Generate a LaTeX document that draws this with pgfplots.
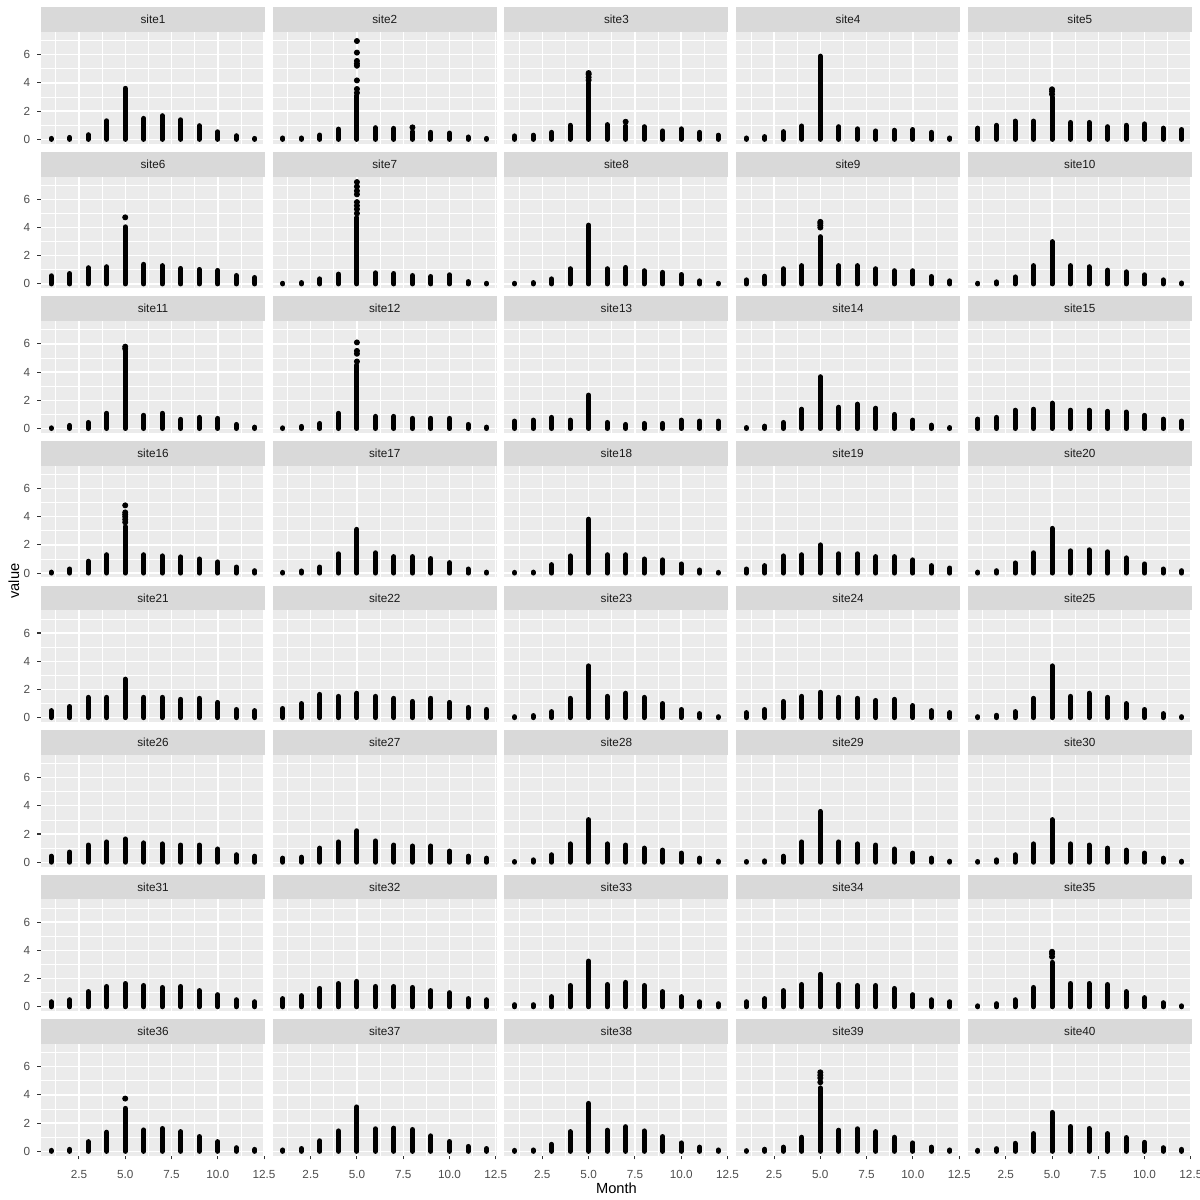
\documentclass[border=0pt]{standalone}
\usepackage{fontspec}
\setmainfont{Liberation Sans}
\usepackage{pgfplots}
\pgfplotsset{compat=1.18}
\usepgfplotslibrary{groupplots}
\definecolor{panelbg}{HTML}{EBEBEB}
\definecolor{stripbg}{HTML}{D9D9D9}
\definecolor{striptext}{HTML}{1A1A1A}
\definecolor{ticktext}{HTML}{4D4D4D}
\definecolor{tickline}{HTML}{333333}
\pgfplotsset{
  facet/.style={
    set layers,
    scale only axis, width=112pt, height=55.85pt,
    xmin=0.45, xmax=12.55, ymin=-0.306, ymax=7.61,
    axis background/.style={fill=panelbg},
    axis line style={draw=none},
    xtick={2.5,5,7.5,10,12.5}, xticklabels={2.5,5.0,7.5,10.0,12.5},
    ytick={0,2,4,6}, yticklabels={0,2,4,6},
    minor xtick={1.25,3.75,6.25,8.75,11.25},
    minor ytick={1,3,5,7},
    grid=both,
    major grid style={white, line width=0.71pt},
    minor grid style={white, line width=0.36pt},
    tick align=outside, major tick length=1.85pt, minor tick length=0pt,
    xtick style={draw=none}, ytick style={draw=none},
    /pgf/number format/assume math mode=true,
    tick label style={font=\fontsize{5.87}{7}\selectfont, text=ticktext},
    xticklabel style={yshift=-1.8pt},
    every axis title/.style={at={(0.5,1)}, anchor=south, fill=stripbg,
      minimum width=112pt, minimum height=12.35pt, inner sep=0pt, outer sep=0pt,
      font=\fontsize{5.87}{7}\selectfont, text=striptext},
  },
  leftcol/.style={ytick style={draw=tickline, line width=0.53pt}, ytick pos=left},
  botrow/.style={xtick style={draw=tickline, line width=0.53pt}, xtick pos=bottom},
  bar/.style={ycomb, black, line width=2.5pt, line cap=round, mark=none},
  pts/.style={only marks, mark=*, mark size=1.28pt, black},
}
\begin{document}
\begin{tikzpicture}
\begin{groupplot}[facet,
  group style={group size=5 by 8, horizontal sep=3.85pt, vertical sep=16.43pt,
    xticklabels at=edge bottom, yticklabels at=edge left}]
% row 1
\nextgroupplot[title=site1, leftcol]
\addplot[bar] coordinates {(1,0.07)(2,0.14)(3,0.33)(4,1.32)(5,3.62)(6,1.49)(7,1.68)(8,1.39)(9,0.97)(10,0.54)(11,0.26)(12,0.07)};
\nextgroupplot[title=site2]
\addplot[bar] coordinates {(1,0.1)(2,0.1)(3,0.31)(4,0.73)(5,3.1)(6,0.83)(7,0.78)(8,0.55)(9,0.5)(10,0.45)(11,0.17)(12,0.07)};
\addplot[pts] coordinates {(5,3.3)(5,3.57)(5,4.18)(5,5.22)(5,5.37)(5,5.56)(5,6.15)(5,6.97)(8,0.85)};
\nextgroupplot[title=site3]
\addplot[bar] coordinates {(1,0.25)(2,0.3)(3,0.5)(4,1.0)(5,4.0)(6,1.05)(7,0.95)(8,0.9)(9,0.6)(10,0.75)(11,0.5)(12,0.3)};
\addplot[pts] coordinates {(5,4.2)(5,4.4)(5,4.6)(5,4.7)(7,1.25)};
\nextgroupplot[title=site4]
\addplot[bar] coordinates {(1,0.1)(2,0.2)(3,0.55)(4,0.95)(5,5.9)(6,0.9)(7,0.75)(8,0.6)(9,0.65)(10,0.7)(11,0.5)(12,0.1)};
\nextgroupplot[title=site5]
\addplot[bar] coordinates {(1,0.8)(2,1.0)(3,1.3)(4,1.3)(5,3.0)(6,1.2)(7,1.2)(8,0.9)(9,1.0)(10,1.1)(11,0.8)(12,0.7)};
\addplot[pts] coordinates {(5,3.2)(5,3.4)(5,3.55)};
% row 2
\nextgroupplot[title=site6, leftcol]
\addplot[bar] coordinates {(1,0.58)(2,0.74)(3,1.15)(4,1.22)(5,4.05)(6,1.39)(7,1.3)(8,1.1)(9,1.03)(10,0.96)(11,0.6)(12,0.46)};
\addplot[pts] coordinates {(5,4.72)};
\nextgroupplot[title=site7]
\addplot[bar] coordinates {(1,0.05)(2,0.1)(3,0.36)(4,0.7)(5,4.7)(6,0.79)(7,0.74)(8,0.6)(9,0.53)(10,0.65)(11,0.17)(12,0.05)};
\addplot[pts] coordinates {(5,5.0)(5,5.3)(5,5.55)(5,5.8)(5,6.35)(5,6.6)(5,6.9)(5,7.22)};
\nextgroupplot[title=site8]
\addplot[bar] coordinates {(1,0.05)(2,0.1)(3,0.36)(4,1.08)(5,4.17)(6,1.08)(7,1.17)(8,0.94)(9,0.82)(10,0.67)(11,0.22)(12,0.05)};
\nextgroupplot[title=site9]
\addplot[bar] coordinates {(1,0.29)(2,0.55)(3,1.08)(4,1.3)(5,3.35)(6,1.3)(7,1.3)(8,1.08)(9,0.94)(10,0.94)(11,0.53)(12,0.22)};
\addplot[pts] coordinates {(5,4.0)(5,4.15)(5,4.3)(5,4.4)};
\nextgroupplot[title=site10]
\addplot[bar] coordinates {(1,0.05)(2,0.15)(3,0.5)(4,1.3)(5,3.0)(6,1.3)(7,1.22)(8,0.98)(9,0.86)(10,0.65)(11,0.29)(12,0.07)};
% row 3
\nextgroupplot[title=site11, leftcol]
\addplot[bar] coordinates {(1,0.05)(2,0.22)(3,0.43)(4,1.08)(5,5.5)(6,0.94)(7,1.08)(8,0.65)(9,0.79)(10,0.72)(11,0.29)(12,0.1)};
\addplot[pts] coordinates {(5,5.65)(5,5.8)};
\nextgroupplot[title=site12]
\addplot[bar] coordinates {(1,0.05)(2,0.15)(3,0.36)(4,1.08)(5,4.5)(6,0.86)(7,0.86)(8,0.72)(9,0.72)(10,0.72)(11,0.29)(12,0.1)};
\addplot[pts] coordinates {(5,4.75)(5,5.3)(5,5.5)(5,6.1)};
\nextgroupplot[title=site13]
\addplot[bar] coordinates {(1,0.53)(2,0.6)(3,0.79)(4,0.6)(5,2.37)(6,0.43)(7,0.29)(8,0.36)(9,0.36)(10,0.6)(11,0.53)(12,0.53)};
\nextgroupplot[title=site14]
\addplot[bar] coordinates {(1,0.07)(2,0.17)(3,0.43)(4,1.37)(5,3.67)(6,1.51)(7,1.73)(8,1.44)(9,1.0)(10,0.6)(11,0.24)(12,0.07)};
\nextgroupplot[title=site15]
\addplot[bar] coordinates {(1,0.67)(2,0.79)(3,1.3)(4,1.37)(5,1.8)(6,1.3)(7,1.3)(8,1.22)(9,1.17)(10,0.94)(11,0.67)(12,0.53)};
% row 4
\nextgroupplot[title=site16, leftcol]
\addplot[bar] coordinates {(1,0.07)(2,0.29)(3,0.84)(4,1.3)(5,3.3)(6,1.3)(7,1.22)(8,1.15)(9,1.0)(10,0.79)(11,0.43)(12,0.17)};
\addplot[pts] coordinates {(5,3.6)(5,3.8)(5,4.0)(5,4.15)(5,4.3)(5,4.8)};
\nextgroupplot[title=site17]
\addplot[bar] coordinates {(1,0.05)(2,0.15)(3,0.43)(4,1.37)(5,3.1)(6,1.44)(7,1.17)(8,1.17)(9,1.03)(10,0.74)(11,0.29)(12,0.07)};
\nextgroupplot[title=site18]
\addplot[bar] coordinates {(1,0.05)(2,0.07)(3,0.6)(4,1.22)(5,3.82)(6,1.3)(7,1.3)(8,1.0)(9,0.94)(10,0.65)(11,0.22)(12,0.05)};
\nextgroupplot[title=site19]
\addplot[bar] coordinates {(1,0.29)(2,0.53)(3,1.22)(4,1.3)(5,2.0)(6,1.37)(7,1.37)(8,1.17)(9,1.17)(10,0.94)(11,0.53)(12,0.36)};
\nextgroupplot[title=site20]
\addplot[bar] coordinates {(1,0.07)(2,0.17)(3,0.72)(4,1.44)(5,3.17)(6,1.58)(7,1.65)(8,1.51)(9,1.08)(10,0.65)(11,0.29)(12,0.17)};
% row 5
\nextgroupplot[title=site21, leftcol]
\addplot[bar] coordinates {(1,0.5)(2,0.79)(3,1.44)(4,1.44)(5,2.73)(6,1.44)(7,1.44)(8,1.3)(9,1.37)(10,1.08)(11,0.58)(12,0.5)};
\nextgroupplot[title=site22]
\addplot[bar] coordinates {(1,0.65)(2,1.0)(3,1.65)(4,1.51)(5,1.73)(6,1.51)(7,1.37)(8,1.15)(9,1.37)(10,1.08)(11,0.72)(12,0.58)};
\nextgroupplot[title=site23]
\addplot[bar] coordinates {(1,0.07)(2,0.15)(3,0.43)(4,1.37)(5,3.67)(6,1.51)(7,1.73)(8,1.44)(9,1.0)(10,0.58)(11,0.29)(12,0.07)};
\nextgroupplot[title=site24]
\addplot[bar] coordinates {(1,0.36)(2,0.58)(3,1.15)(4,1.51)(5,1.8)(6,1.44)(7,1.37)(8,1.22)(9,1.3)(10,0.86)(11,0.5)(12,0.36)};
\nextgroupplot[title=site25]
\addplot[bar] coordinates {(1,0.07)(2,0.17)(3,0.43)(4,1.37)(5,3.67)(6,1.51)(7,1.73)(8,1.44)(9,1.0)(10,0.58)(11,0.29)(12,0.07)};
% row 6
\nextgroupplot[title=site26, leftcol]
\addplot[bar] coordinates {(1,0.43)(2,0.72)(3,1.22)(4,1.44)(5,1.65)(6,1.37)(7,1.3)(8,1.22)(9,1.22)(10,0.94)(11,0.53)(12,0.43)};
\nextgroupplot[title=site27]
\addplot[bar] coordinates {(1,0.29)(2,0.36)(3,1.0)(4,1.44)(5,2.23)(6,1.51)(7,1.22)(8,1.15)(9,1.15)(10,0.79)(11,0.43)(12,0.29)};
\nextgroupplot[title=site28]
\addplot[bar] coordinates {(1,0.05)(2,0.17)(3,0.53)(4,1.3)(5,3.02)(6,1.3)(7,1.22)(8,1.0)(9,0.86)(10,0.65)(11,0.29)(12,0.07)};
\nextgroupplot[title=site29]
\addplot[bar] coordinates {(1,0.05)(2,0.1)(3,0.43)(4,1.44)(5,3.6)(6,1.44)(7,1.3)(8,1.22)(9,0.94)(10,0.65)(11,0.29)(12,0.07)};
\nextgroupplot[title=site30]
\addplot[bar] coordinates {(1,0.05)(2,0.17)(3,0.53)(4,1.3)(5,3.02)(6,1.3)(7,1.22)(8,1.0)(9,0.86)(10,0.65)(11,0.29)(12,0.07)};
% row 7
\nextgroupplot[title=site31, leftcol]
\addplot[bar] coordinates {(1,0.36)(2,0.5)(3,1.08)(4,1.44)(5,1.65)(6,1.51)(7,1.37)(8,1.44)(9,1.15)(10,0.86)(11,0.5)(12,0.36)};
\nextgroupplot[title=site32]
\addplot[bar] coordinates {(1,0.58)(2,0.79)(3,1.3)(4,1.65)(5,1.8)(6,1.44)(7,1.44)(8,1.37)(9,1.15)(10,1.0)(11,0.58)(12,0.5)};
\nextgroupplot[title=site33]
\addplot[bar] coordinates {(1,0.15)(2,0.15)(3,0.72)(4,1.51)(5,3.24)(6,1.58)(7,1.73)(8,1.51)(9,1.08)(10,0.72)(11,0.36)(12,0.22)};
\nextgroupplot[title=site34]
\addplot[bar] coordinates {(1,0.36)(2,0.58)(3,1.15)(4,1.58)(5,2.3)(6,1.58)(7,1.51)(8,1.51)(9,1.3)(10,0.86)(11,0.5)(12,0.36)};
\nextgroupplot[title=site35]
\addplot[bar] coordinates {(1,0.07)(2,0.22)(3,0.5)(4,1.37)(5,3.15)(6,1.65)(7,1.65)(8,1.58)(9,1.08)(10,0.65)(11,0.29)(12,0.07)};
\addplot[pts] coordinates {(5,3.55)(5,3.75)(5,3.9)};
% row 8
\nextgroupplot[title=site36, leftcol, botrow]
\addplot[bar] coordinates {(1,0.07)(2,0.14)(3,0.69)(4,1.36)(5,3.05)(6,1.52)(7,1.62)(8,1.4)(9,1.05)(10,0.69)(11,0.26)(12,0.14)};
\addplot[pts] coordinates {(5,3.74)};
\nextgroupplot[title=site37, botrow]
\addplot[bar] coordinates {(1,0.1)(2,0.2)(3,0.75)(4,1.45)(5,3.15)(6,1.6)(7,1.65)(8,1.55)(9,1.1)(10,0.7)(11,0.35)(12,0.2)};
\nextgroupplot[title=site38, botrow]
\addplot[bar] coordinates {(1,0.07)(2,0.1)(3,0.5)(4,1.4)(5,3.4)(6,1.5)(7,1.75)(8,1.45)(9,1.05)(10,0.6)(11,0.3)(12,0.1)};
\nextgroupplot[title=site39, botrow]
\addplot[bar] coordinates {(1,0.05)(2,0.15)(3,0.3)(4,1.0)(5,4.5)(6,1.5)(7,1.6)(8,1.4)(9,1.0)(10,0.6)(11,0.3)(12,0.1)};
\addplot[pts] coordinates {(5,4.9)(5,5.2)(5,5.4)(5,5.6)};
\nextgroupplot[title=site40, botrow]
\addplot[bar] coordinates {(1,0.07)(2,0.19)(3,0.57)(4,1.26)(5,2.76)(6,1.76)(7,1.62)(8,1.26)(9,0.98)(10,0.64)(11,0.26)(12,0.14)};
\end{groupplot}
\node[rotate=90, font=\fontsize{7.33}{9}\selectfont] at ([shift={(-13.5pt,-274.5pt)}]group c1r1.north west) {value};
\node[font=\fontsize{7.33}{9}\selectfont] at ([shift={(287.75pt,-578pt)}]group c1r1.north west) {Month};
\pgfresetboundingbox
\useasboundingbox ([shift={(-20.5pt,16pt)}]group c1r1.north west) rectangle ([shift={(579.5pt,-584pt)}]group c1r1.north west);
\end{tikzpicture}
\end{document}
